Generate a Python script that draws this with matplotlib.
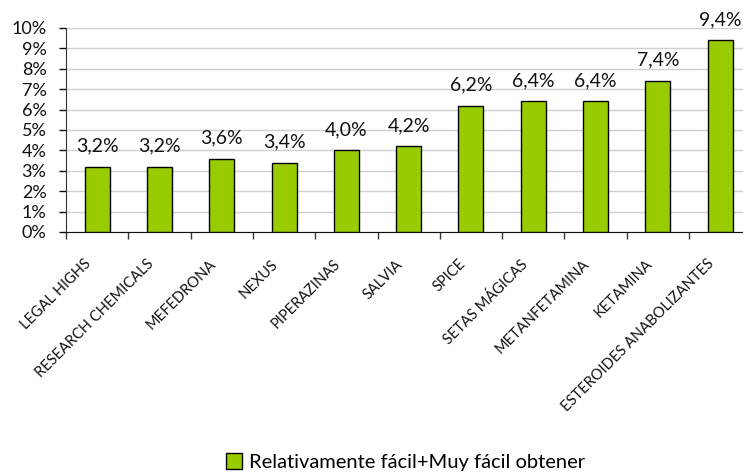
import matplotlib
matplotlib.use("Agg")
import matplotlib.pyplot as plt
from matplotlib.patches import Patch
from matplotlib.ticker import MultipleLocator, FuncFormatter
import matplotlib.transforms as mtransforms

categories = ["LEGAL HIGHS", "RESEARCH CHEMICALS", "MEFEDRONA", "NEXUS",
              "PIPERAZINAS", "SALVIA", "SPICE", "SETAS MÁGICAS",
              "METANFETAMINA", "KETAMINA", "ESTEROIDES ANABOLIZANTES"]
values = [3.2, 3.2, 3.6, 3.4, 4.0, 4.2, 6.2, 6.4, 6.4, 7.4, 9.4]
series_name = "Relativamente fácil+Muy fácil obtener"

plt.rcParams["font.family"] = ["Lato", "DejaVu Sans"]

fig = plt.figure(figsize=(7.43, 4.75), dpi=100)
W, H = 743, 475
left, top, bottom = 66, 28, 232
width = 11 * 62.3
ax = fig.add_axes([left / W, 1 - bottom / H, width / W, (bottom - top) / H])

x = list(range(len(categories)))
ax.bar(x, values, width=0.4, color="#99CC00", edgecolor="black", linewidth=1.0, zorder=3)

for xi, v in zip(x, values):
    ax.text(xi, v + 0.6, f"{v:.1f}%".replace(".", ","), ha="center", va="bottom",
            fontsize=14, color="#111111")

ax.set_xlim(-0.5, len(categories) - 0.5)
ax.set_ylim(0, 10)
ax.yaxis.set_major_locator(MultipleLocator(1))
ax.yaxis.set_major_formatter(FuncFormatter(lambda v, p: f"{int(round(v))}%"))
ax.tick_params(axis="y", labelsize=13, length=5, width=1, colors="#111111", pad=9)
ax.grid(axis="y", color="#d0d0d0", linewidth=1.0, zorder=0)

# category boundaries as x ticks
ax.set_xticks([i - 0.5 for i in range(len(categories) + 1)], minor=False)
ax.set_xticklabels([])
ax.tick_params(axis="x", length=5, width=1, direction="out", colors="#333333")
ax.set_xticks(x, minor=True)
ax.set_xticklabels(categories, minor=True, rotation=45, ha="right",
                   rotation_mode="anchor", fontsize=10.5, color="#111111")
ax.tick_params(axis="x", which="minor", length=0, pad=18)
offset = mtransforms.ScaledTranslation(-0.13, 0, fig.dpi_scale_trans)
for lbl in ax.get_xticklabels(minor=True):
    lbl.set_transform(lbl.get_transform() + offset)

for s in ["top", "right"]:
    ax.spines[s].set_visible(False)
ax.spines["left"].set_color("#333333")
ax.spines["bottom"].set_color("#111111")

handle = Patch(facecolor="#99CC00", edgecolor="black", linewidth=1.0)
fig.legend([handle], [series_name], loc="center", bbox_to_anchor=(0.546, 1 - 462 / H),
           frameon=False, fontsize=14.5, handlelength=0.8, handleheight=0.8,
           handletextpad=0.35)

fig.savefig("out.png", dpi=100)
